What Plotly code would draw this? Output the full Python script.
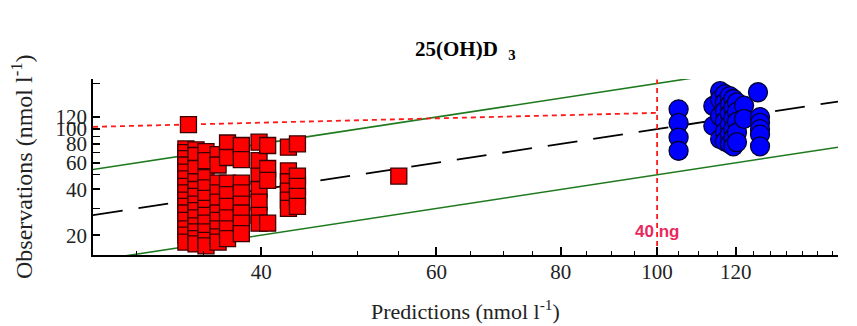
import numpy as np
import plotly.graph_objects as go

# ---- data ----
sq_pred = ([33.8] +
           [33.6] * 15 +
           [34.4] * 13 +
           [35.2] * 11 +
           [36.2] * 10 +
           [37.0] * 8 +
           [38.2] * 8 +
           [39.8] * 7 +
           [40.6] * 4 +
           [42.6] * 6 +
           [43.5] * 5 +
           [55.0])
sq_obs = ([107] +
          [74, 70, 64, 58, 52, 47, 42, 38, 34, 31, 28, 25, 22, 20, 18] +
          [73, 67, 55, 45, 40, 36, 32, 29, 26, 23, 21, 19, 17.5] +
          [71, 62, 48, 41, 35, 30, 27, 24, 21, 18.5, 17] +
          [68, 58, 44, 38, 33, 28, 25, 22, 19.5, 18] +
          [81, 65, 44, 37, 31, 26, 22, 19] +
          [78, 63, 44, 38, 32, 28, 24, 20.5] +
          [82, 62, 49, 40, 33, 27, 24] +
          [78, 55, 46, 24] +
          [76, 53, 45, 39, 34, 30] +
          [80, 49, 42, 36, 31] +
          [49])

circ_pred = ([105.1] * 4 +
             [113.9] * 2 +
             [115.7] * 4 +
             [117.0] * 6 +
             [118.3] * 6 +
             [119.3] * 6 +
             [120.3] * 5 +
             [122.3] * 2 +
             [126.3] * 1 +
             [126.9] * 5)
circ_obs = ([135, 110, 88, 72] +
            [142, 105] +
            [178, 157, 122, 86] +
            [170, 150, 132, 112, 96, 83] +
            [165, 145, 126, 106, 92, 80] +
            [158, 138, 118, 100, 87, 77] +
            [150, 130, 112, 95, 82] +
            [143, 117] +
            [175] +
            [120, 110, 100, 92, 77])

x_ticks = [40, 60, 80, 100, 120]
x_minor = [30, 35, 45, 50, 55, 65, 70, 75, 85, 90, 95, 105, 110, 115,
           125, 130, 135, 140, 145, 150]
y_ticks = [20, 40, 60, 80, 100, 120]
y_minor = [30, 50, 70, 90, 200]

x_range = [27.1, 152]
y_range = [14.8, 214]

# reference lines
ref_x = [27.1, 152]
one_to_one_y = [27.1, 152]
upper_y = [54.2, 304]
lower_y = [13.55, 76]

limit_h_x = [27.1, 100]
limit_h_y = [103.5, 128]
limit_v_x = [100, 100]
limit_v_y = [14.8, 212]
label_x, label_y, label_text = 100, 21.2, "40&nbsp;ng"

SERIF = "Liberation Serif, Times New Roman, serif"

fig = go.Figure()

fig.add_trace(go.Scatter(x=ref_x, y=upper_y, mode="lines",
                         line=dict(color="#1f7a1f", width=1.6), showlegend=False))
fig.add_trace(go.Scatter(x=ref_x, y=lower_y, mode="lines",
                         line=dict(color="#1f7a1f", width=1.6), showlegend=False))
fig.add_trace(go.Scatter(x=ref_x, y=one_to_one_y, mode="lines",
                         line=dict(color="black", width=1.8, dash="30px,16px"),
                         showlegend=False))
fig.add_trace(go.Scatter(x=limit_h_x, y=limit_h_y, mode="lines",
                         line=dict(color="#ff1a1a", width=1.8, dash="5px,4px"),
                         showlegend=False))
fig.add_trace(go.Scatter(x=limit_v_x, y=limit_v_y, mode="lines",
                         line=dict(color="#ff1a1a", width=1.8, dash="5px,4px"),
                         showlegend=False))

fig.add_trace(go.Scatter(x=sq_pred, y=sq_obs, mode="markers",
                         marker=dict(symbol="square", size=16, color="#ff0000",
                                     line=dict(color="#3a0000", width=1.3)),
                         showlegend=False))
fig.add_trace(go.Scatter(x=circ_pred, y=circ_obs, mode="markers",
                         marker=dict(symbol="circle", size=19, color="#0000ff",
                                     line=dict(color="#000033", width=1.3)),
                         showlegend=False))

axis_common = dict(type="log", showline=True, linecolor="black", linewidth=1.5,
                   ticks="inside", tickwidth=1.5, tickcolor="black",
                   showgrid=False, zeroline=False, mirror=False,
                   tickfont=dict(family=SERIF, size=21, color="#222"))

fig.update_xaxes(range=list(np.log10(x_range)), tickvals=x_ticks,
                 ticktext=[str(v) for v in x_ticks], ticklen=8,
                 ticklabelstandoff=-3,
                 minor=dict(tickvals=x_minor, ticks="inside", ticklen=4,
                            tickwidth=1.3, tickcolor="black"),
                 **axis_common)
fig.update_yaxes(range=list(np.log10(y_range)), tickvals=y_ticks,
                 ticktext=[str(v) for v in y_ticks], ticklen=7,
                 minor=dict(tickvals=y_minor, ticks="inside", ticklen=7,
                            tickwidth=1.3, tickcolor="black"),
                 **axis_common)

annotations = [
    dict(text="<b>25(OH)D</b>&nbsp;&nbsp;<b><sub>3</sub></b>", xref="paper", yref="paper",
         x=0.5, y=1.165, xanchor="center", yanchor="middle", showarrow=False,
         font=dict(family=SERIF, size=21, color="black")),
    dict(text="Predictions (nmol l<sup>-1</sup>)", xref="paper", yref="paper",
         x=0.5, y=-0.315, xanchor="center", yanchor="middle", showarrow=False,
         font=dict(family=SERIF, size=22, color="#222")),
    dict(text="Observations (nmol l<sup>-1</sup>)", xref="paper", yref="paper",
         x=-0.0953, y=0.5, xanchor="center", yanchor="middle", textangle=-90,
         showarrow=False, font=dict(family=SERIF, size=24, color="#222")),
    dict(text=label_text, x=np.log10(label_x), y=np.log10(label_y),
         xref="x", yref="y", xanchor="center", yanchor="middle", showarrow=False,
         font=dict(family="Liberation Sans, Arial, sans-serif", size=17,
                   color="#e8295f", weight="bold")),
]

fig.update_layout(width=857, height=326,
                  margin=dict(l=93, r=19, t=79, b=71),
                  paper_bgcolor="white", plot_bgcolor="white",
                  annotations=annotations, showlegend=False)

fig.write_html("out.html")
